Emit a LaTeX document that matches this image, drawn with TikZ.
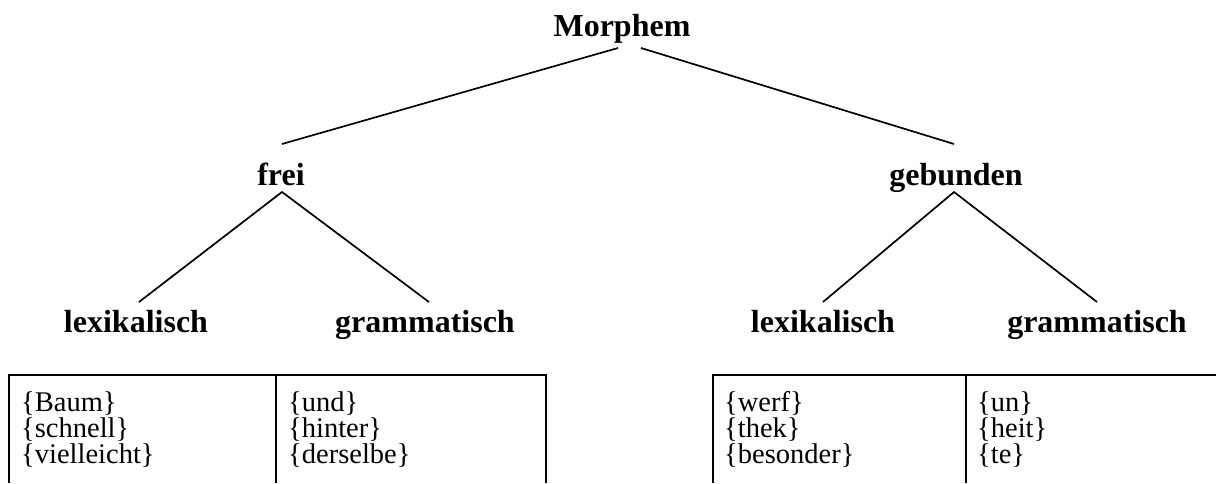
\documentclass[tikz,border=0pt]{standalone}
\usepackage{fontspec}
\setmainfont{Liberation Serif}
\begin{document}
\begin{tikzpicture}[x=1pt,y=-1pt,
  head/.style={inner sep=0pt,anchor=base,font=\fontsize{32}{36}\selectfont\bfseries},
  cell/.style={inner sep=0pt,anchor=base west,font=\fontsize{28.5}{31}\selectfont},
  branch/.style={line width=1.7pt},
  grid/.style={line width=2pt}]
\useasboundingbox (0,0) rectangle (1216,483);

% tree labels
\node[head] (morphem) at (622,36) {Morphem};
\node[head] (frei) at (281,185) {frei};
\node[head] (gebunden) at (956,185) {gebunden};
\node[head] (flex) at (136,332) {lexikalisch};
\node[head] (fgram) at (425,332) {grammatisch};
\node[head] (glex) at (823,332) {lexikalisch};
\node[head] (ggram) at (1097,332) {grammatisch};

% branch end points
\coordinate (mL) at (618,48);
\coordinate (mR) at (641,48);
\coordinate (freiTop) at (282,144);
\coordinate (gebTop) at (954,144);
\coordinate (freiFoot) at (282,192);
\coordinate (gebFoot) at (954,192);
\coordinate (flexTop) at (139,302);
\coordinate (fgramTop) at (429,302);
\coordinate (glexTop) at (823,302);
\coordinate (ggramTop) at (1097,302);

\draw[branch] (mL) -- (freiTop);
\draw[branch] (mR) -- (gebTop);
\draw[branch] (flexTop) -- (freiFoot) -- (fgramTop);
\draw[branch] (glexTop) -- (gebFoot) -- (ggramTop);

% left table
\draw[grid] (9,483) -- (9,375) -- (546,375) -- (546,483);
\draw[grid] (276,375) -- (276,483);
\node[cell] (t1a) at (21,411) {\{Baum\}};
\node[cell] (t1b) at (21,437) {\{schnell\}};
\node[cell] (t1c) at (21,463) {\{vielleicht\}};
\node[cell] (t2a) at (288,411) {\{und\}};
\node[cell] (t2b) at (288,437) {\{hinter\}};
\node[cell] (t2c) at (288,463) {\{derselbe\}};

% right table
\draw[grid] (713,483) -- (713,375) -- (1216,375);
\draw[grid] (966,375) -- (966,483);
\node[cell] (t3a) at (724,411) {\{werf\}};
\node[cell] (t3b) at (724,437) {\{thek\}};
\node[cell] (t3c) at (724,463) {\{besonder\}};
\node[cell] (t4a) at (977,411) {\{un\}};
\node[cell] (t4b) at (977,437) {\{heit\}};
\node[cell] (t4c) at (977,463) {\{te\}};
\end{tikzpicture}
\end{document}
